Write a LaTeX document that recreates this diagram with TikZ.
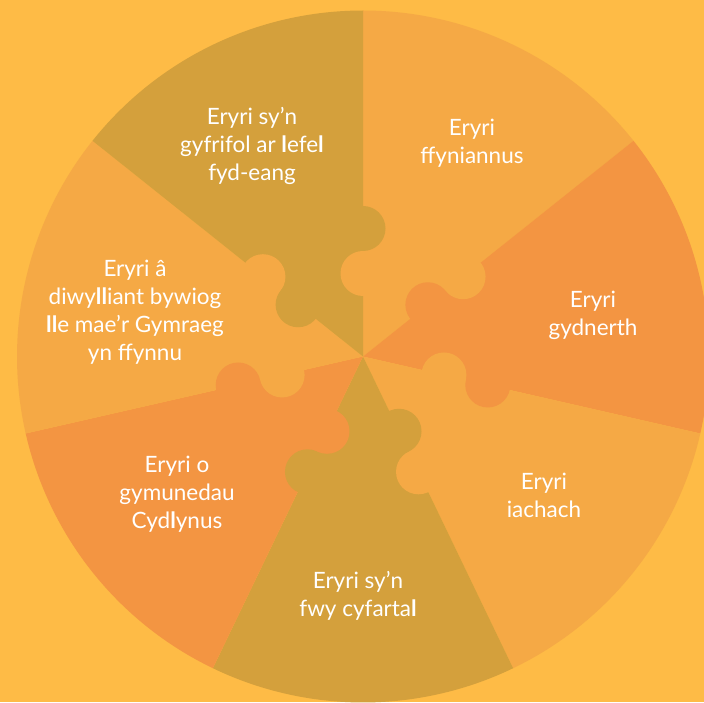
\documentclass[tikz,border=0pt]{standalone}
\usepackage{fontspec}
\setmainfont{Lato}
\definecolor{bgyellow}{HTML}{FEBB46}
\definecolor{mustard}{HTML}{D4A03C}
\definecolor{lightorange}{HTML}{F5A945}
\definecolor{deeporange}{HTML}{F39542}
\newcommand{\thickl}{\textbf{l}}
\tikzset{
	piece text/.style={text=white, align=center, inner sep=0pt, anchor=north,
		font=\fontsize{22.5}{28}\selectfont}
}
\begin{document}
\begin{tikzpicture}[x=1pt,y=1pt]
	\useasboundingbox (0,0) rectangle (704,702);
	\fill[bgyellow] (0,0) rectangle (704,702);
	\clip (0,0) rectangle (704,702);
	
	\begin{scope}[shift={(363,345.5)}]
	% seven pieces
	\foreach \c [count=\k from 0] in {lightorange,deeporange,lightorange,mustard,deeporange,lightorange,mustard}
		\fill[\c] (0,0) -- ({90-51.4286*\k}:346) arc[start angle={90-51.4286*\k}, end angle={90-51.4286*(\k+1)}, radius=346] -- cycle;
	
	% tabs
	\foreach \c [count=\k from 0] in {lightorange,deeporange,lightorange,mustard,deeporange,lightorange,mustard} {
		\fill[\c] ({90-51.4286*\k}:83) circle[radius=22.5];
		\fill[\c] ({90-51.4286*(\k+1)}:128) circle[radius=22.5];
	}
	\end{scope}
	
	\node[piece text] (ffyn) at (472,583) {Eryri\\ffyniannus};
	\node[piece text] (gydn) at (593,411) {Eryri\\gydnerth};
	\node[piece text] (iach) at (544,229.5) {Eryri\\iachach};
	\node[piece text] (cyfar) at (358,130.5) {Eryri sy’n\\fwy cyfarta\thickl};
	\node[piece text] (cydl) at (177,246) {Eryri o\\gymunedau\\Cyd\thickl ynus};
	\node[piece text] (diwyl) at (135,442) {Eryri â\\diwy\thickl\thickl iant bywiog\\\thickl\thickl e mae’r Gymraeg\\yn ffynnu};
	\node[piece text] (gyfri) at (252,595) {Eryri sy’n\\gyfrifol ar \thickl efe\thickl\\fyd-eang};
\end{tikzpicture}
\end{document}
